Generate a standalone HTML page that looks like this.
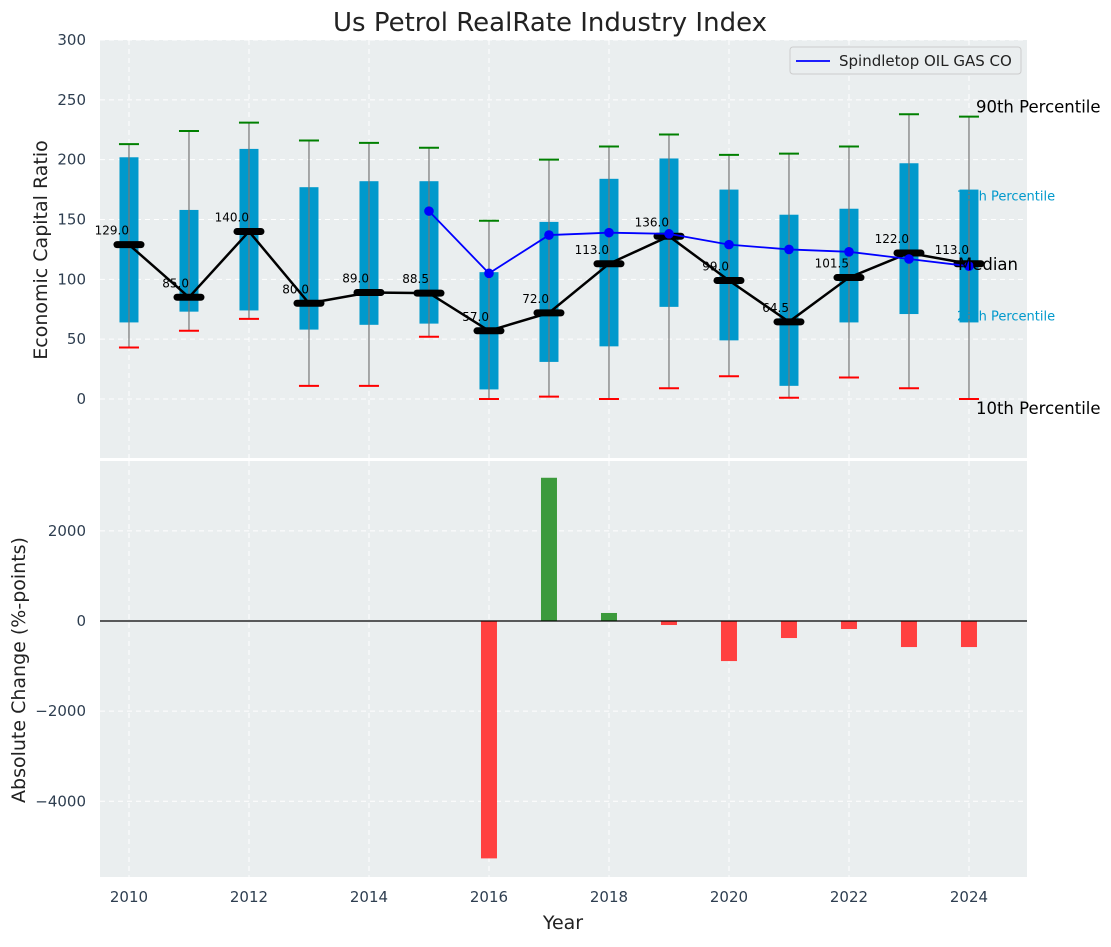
<!DOCTYPE html>
<html><head><meta charset="utf-8"><style>
body{margin:0;background:#fff;font-family:"Liberation Sans","DejaVu Sans",sans-serif;}
svg text{font-family:"DejaVu Sans","Liberation Sans",sans-serif;}
</style></head><body>
<svg id="chart" width="1111" height="942" xmlns="http://www.w3.org/2000/svg"></svg>
<script>
const years=[2010,2011,2012,2013,2014,2015,2016,2017,2018,2019,2020,2021,2022,2023,2024];
const p90=[213,224,231,216,214,210,149,200,211,221,204,205,211,238,236];
const p75=[202,158,209,177,182,182,106,148,184,201,175,154,159,197,175];
const medians=[129,85,140,80,89,88.5,57,72,113,136,99,64.5,101.5,122,113];
const p25=[64,73,74,58,62,63,8,31,44,77,49,11,64,71,64];
const p10=[43,57,67,11,11,52,0,2,0,9,19,1,18,9,0];
const companyYears=[2015,2016,2017,2018,2019,2020,2021,2022,2023,2024];
const companyVals=[157,105,137,139,138,129,125,123,117,111];
const changeYears=[2016,2017,2018,2019,2020,2021,2022,2023,2024];
const changeVals=[-5267,3178,178,-89,-889,-378,-178,-578,-578];
const topTicks=[0,50,100,150,200,250,300];
const botTicks=[-4000,-2000,0,2000];
const xTicks=[2010,2012,2014,2016,2018,2020,2022,2024];

const NS="http://www.w3.org/2000/svg";
const svg=document.getElementById('chart');
function el(t,a,p){const e=document.createElementNS(NS,t);for(const k in a)e.setAttribute(k,a[k]);(p||svg).appendChild(e);return e;}
const L=100,R=1027;
const x=v=>L+(v-2009.517)/(2024.967-2009.517)*(R-L);
const T0=40,T1=458,tMin=-49.3,tMax=300;
const yT=v=>T1-(v-tMin)/(tMax-tMin)*(T1-T0);
const B0=461,B1=877,bMin=-5680,bMax=3550;
const yB=v=>B1-(v-bMin)/(bMax-bMin)*(B1-B0);

let e=el('rect',{x:L,y:T0,width:R-L,height:T1-T0,fill:'#eaeeef'});

e=el('rect',{x:L,y:B0,width:R-L,height:B1-B0,fill:'#eaeeef'});


topTicks.forEach(t=>{const g=el('line',{x1:L,x2:R,y1:yT(t),y2:yT(t),stroke:'#fff','stroke-dasharray':'5,4','stroke-width':1});
 const tx=el('text',{x:L-14,y:yT(t)+5,'text-anchor':'end','font-size':15,fill:'#2e3e50'});tx.textContent=t;});
botTicks.forEach(t=>{const g=el('line',{x1:L,x2:R,y1:yB(t),y2:yB(t),stroke:'#fff','stroke-dasharray':'5,4','stroke-width':1});
 const tx=el('text',{x:L-14,y:yB(t)+5,'text-anchor':'end','font-size':15,fill:'#2e3e50'});tx.textContent=(t<0?'\u2212'+(-t):t);});
xTicks.forEach(t=>{[[T0,T1],[B0,B1]].forEach(r=>{const g=el('line',{x1:x(t),x2:x(t),y1:r[0],y2:r[1],stroke:'#fff','stroke-dasharray':'5,4','stroke-width':1});});
 const tx=el('text',{x:x(t),y:B1+25,'text-anchor':'middle','font-size':15,fill:'#2e3e50'});tx.textContent=t;});

years.forEach((yr,i)=>{
 const cx=x(yr);
 let b=el('rect',{x:cx-9.5,y:yT(p75[i]),width:19,height:yT(p25[i])-yT(p75[i]),fill:'#0099cc'});
 
 let w=el('line',{x1:cx,x2:cx,y1:yT(p90[i]),y2:yT(p10[i]),stroke:'#777','stroke-width':1.2});
 
 let c1=el('line',{x1:cx-10,x2:cx+10,y1:yT(p90[i]),y2:yT(p90[i]),stroke:'green','stroke-width':2});
 
 let c2=el('line',{x1:cx-10,x2:cx+10,y1:yT(p10[i]),y2:yT(p10[i]),stroke:'red','stroke-width':2});
 
});
let d=years.map((yr,i)=>(i?'L':'M')+x(yr)+','+yT(medians[i])).join(' ');
e=el('path',{d:d,fill:'none',stroke:'#000','stroke-width':2.5});

years.forEach((yr,i)=>{
 const cx=x(yr),cy=yT(medians[i]);
 let m=el('line',{x1:cx-12,x2:cx+12,y1:cy,y2:cy,stroke:'#000','stroke-width':7,'stroke-linecap':'round'});
 
 let t=el('text',{x:cx,y:cy-10,'text-anchor':'end','font-size':12,fill:'#000'});t.textContent=medians[i].toFixed(1);
 
});
d=companyYears.map((yr,i)=>(i?'L':'M')+x(yr)+','+yT(companyVals[i])).join(' ');
e=el('path',{d:d,fill:'none',stroke:'#0000ff','stroke-width':1.8});

companyYears.forEach((yr,i)=>{let c=el('circle',{cx:x(yr),cy:yT(companyVals[i]),r:4.8,fill:'#0000ff'});
 });

const lx=x(2024);
function ann(txt,xx,yy,sz,col,name){const t=el('text',{x:xx,y:yy,'font-size':sz,fill:col});t.textContent=txt;return t;}
ann('90th Percentile',lx+7,yT(p90[14])-4,16.5,'#000','p90-annotation');
ann('75th Percentile',lx-12,yT(p75[14])+11,13,'#0099cc','p75-annotation');
ann('Median',lx-11,yT(medians[14])+6,16.5,'#000','median-annotation');
ann('25th Percentile',lx-12,yT(p25[14])-2,13,'#0099cc','p25-annotation');
ann('10th Percentile',lx+7,yT(p10[14])+15,16.5,'#000','p10-annotation');

const lg=el('g',{});
el('rect',{x:790,y:47,width:231,height:27,rx:3,fill:'#eaeeef',stroke:'#ccc'},lg);
el('line',{x1:796,x2:830,y1:61,y2:61,stroke:'#0000ff','stroke-width':1.8},lg);
let lt=el('text',{x:839,y:66,'font-size':15,fill:'#222'},lg);lt.textContent='Spindletop OIL GAS CO';


changeYears.forEach((yr,i)=>{const v=changeVals[i];const y0=yB(0),y1=yB(v);
 let b=el('rect',{x:x(yr)-8,y:Math.min(y0,y1),width:16,height:Math.abs(y1-y0),fill:v>=0?'#3c9a3c':'#ff4040'});
 });
e=el('line',{x1:L,x2:R,y1:yB(0),y2:yB(0),stroke:'#000','stroke-width':1.2});


const tt=ann('Us Petrol RealRate Industry Index',550,31,26,'#222','chart-title');tt.setAttribute('text-anchor','middle');
let a=el('text',{x:0,y:0,'font-size':19,fill:'#222','text-anchor':'middle',transform:'translate(47,250) rotate(-90)'});a.textContent='Economic Capital Ratio';

a=el('text',{x:0,y:0,'font-size':19,fill:'#222','text-anchor':'middle',transform:'translate(25,670) rotate(-90)'});a.textContent='Absolute Change (%-points)';

a=el('text',{x:563,y:929,'font-size':19,fill:'#222','text-anchor':'middle'});a.textContent='Year';

</script>
</body></html>
